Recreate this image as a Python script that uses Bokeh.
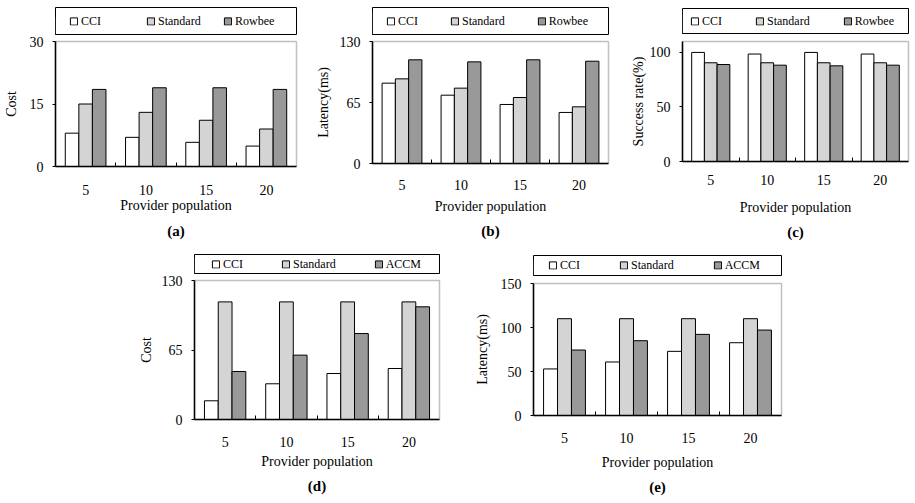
from bokeh.plotting import figure
from bokeh.models import (Range1d, FixedTicker, Legend, LegendItem, Title, Spacer)
from bokeh.layouts import row, column
from bokeh.embed import file_html
from bokeh.resources import INLINE

# ---------------- data ----------------
categories = ["5", "10", "15", "20"]

a_names = ["CCI", "Standard", "Rowbee"]
a_cci = [8.0, 7.0, 5.8, 4.9]
a_std = [15.0, 13.0, 11.1, 9.0]
a_row = [18.5, 18.9, 18.9, 18.5]
a_ticks = [0, 15, 30]

b_names = ["CCI", "Standard", "Rowbee"]
b_cci = [85.6, 72.8, 62.9, 54.4]
b_std = [90.2, 80.3, 70.3, 60.4]
b_row = [110.5, 108.3, 110.5, 109.0]
b_ticks = [0, 65, 130]

c_names = ["CCI", "Standard", "Rowbee"]
c_cci = [100.0, 98.5, 100.0, 98.5]
c_std = [90.5, 90.5, 90.5, 90.5]
c_row = [88.9, 88.3, 87.7, 88.3]
c_ticks = [0, 50, 100]

d_names = ["CCI", "Standard", "ACCM"]
d_cci = [17.5, 33.4, 43.0, 47.7]
d_std = [110.0, 110.0, 110.0, 110.0]
d_accm = [44.9, 60.2, 80.4, 105.4]
d_ticks = [0, 65, 130]

e_names = ["CCI", "Standard", "ACCM"]
e_cci = [52.9, 60.8, 72.9, 82.7]
e_std = [110.0, 110.0, 110.0, 110.0]
e_accm = [74.4, 85.0, 92.2, 97.1]
e_ticks = [0, 50, 100, 150]

# ---------------- style ----------------
FONT = "Liberation Serif"
COLORS = ["#ffffff", "#d4d4d4", "#999999"]
BAR_W = 0.225


def panel(series, names, ylabel, yticks, ymax, caption, width, bl, br,
          leg_h, leg_bt, leg_fh, leg_x, leg_lw, leg_sp,
          main_h, bt, fh, ylab_so, xtick_so, xlab_so, cap_so):
    n = len(series)
    xs_of = []
    for k in range(n):
        off = (k - (n - 1) / 2) * BAR_W
        xs_of.append([i + 1 + off for i in range(len(categories))])

    # ---- legend strip: its frame outline is the legend box ----
    lf = figure(width=width, height=leg_h, output_backend="svg",
                toolbar_location=None, min_border_left=bl, min_border_right=br,
                min_border_top=leg_bt, min_border_bottom=leg_h - leg_bt - leg_fh,
                x_axis_location=None, y_axis_location=None,
                x_range=Range1d(100, 101), y_range=Range1d(0, ymax))
    lf.xgrid.visible = False
    lf.ygrid.visible = False
    lf.outline_line_color = "black"
    lf.outline_line_width = 1
    # key swatches use the same series, drawn off-canvas
    keys = [lf.vbar(x=xs_of[k], top=series[k], bottom=0, width=BAR_W,
                    fill_color=COLORS[k], line_color="black", line_width=1)
            for k in range(n)]
    legend = Legend(items=[LegendItem(label=nm, renderers=[r])
                           for nm, r in zip(names, keys)],
                    orientation="horizontal", location="left",
                    padding=0, spacing=leg_sp, margin=leg_x,
                    glyph_width=9, glyph_height=9, label_standoff=3,
                    label_width=leg_lw, label_height=12,
                    label_text_font=FONT, label_text_font_size="12px",
                    label_text_color="black",
                    border_line_color=None, background_fill_alpha=0)
    lf.add_layout(legend)

    # ---- main chart ----
    bb = main_h - bt - fh
    p = figure(width=width, height=main_h, output_backend="svg",
               toolbar_location=None, min_border_left=bl, min_border_right=br,
               min_border_top=bt, min_border_bottom=bb,
               x_range=Range1d(0.5, len(categories) + 0.5),
               y_range=Range1d(0, ymax))
    p.xgrid.visible = False
    p.ygrid.visible = False
    p.outline_line_color = "#c0c0c0"
    p.outline_line_width = 1.5

    for k, vals in enumerate(series):
        p.vbar(x=xs_of[k], top=vals, bottom=0, width=BAR_W,
               fill_color=COLORS[k], line_color="black", line_width=1)

    centers = [i + 1 for i in range(len(categories))]
    bounds = [i + 1.5 for i in range(len(categories) - 1)]
    xa = p.xaxis[0]
    xa.ticker = FixedTicker(ticks=centers, minor_ticks=bounds)
    xa.major_label_overrides = {c: lab for c, lab in zip(centers, categories)}
    xa.major_tick_line_color = None
    xa.major_tick_out = 0
    xa.major_tick_in = 0
    xa.minor_tick_in = 4
    xa.minor_tick_out = 0
    xa.minor_tick_line_color = "black"
    xa.axis_line_color = "black"
    xa.axis_line_width = 1.5
    xa.major_label_standoff = xtick_so
    xa.major_label_text_font = FONT
    xa.major_label_text_font_size = "14px"
    xa.major_label_text_color = "black"
    xa.axis_label = "Provider population"
    xa.axis_label_text_font = FONT
    xa.axis_label_text_font_size = "14px"
    xa.axis_label_text_font_style = "normal"
    xa.axis_label_text_color = "black"
    xa.axis_label_standoff = xlab_so

    ya = p.yaxis[0]
    ya.ticker = FixedTicker(ticks=yticks, minor_ticks=[])
    ya.major_tick_out = 3
    ya.major_tick_in = 0
    ya.major_tick_line_color = "black"
    ya.minor_tick_line_color = None
    ya.axis_line_color = "black"
    ya.axis_line_width = 1.5
    ya.major_label_standoff = 9
    ya.major_label_text_font = FONT
    ya.major_label_text_font_size = "14px"
    ya.major_label_text_color = "black"
    ya.axis_label = ylabel
    ya.axis_label_text_font = FONT
    ya.axis_label_text_font_size = "14px"
    ya.axis_label_text_font_style = "normal"
    ya.axis_label_text_color = "black"
    ya.axis_label_standoff = ylab_so

    cap = Title(text=caption, align="center", text_font=FONT,
                text_font_size="15px", text_font_style="bold",
                text_color="black", standoff=cap_so)
    p.add_layout(cap, "below")
    return column(lf, p)


pa = panel([a_cci, a_std, a_row], a_names, "Cost", a_ticks, 30, "(a)", 305, 53, 9,
           35, 7, 27, 14, 48, 17,
           215, 6, 125, 8, 18, 0, 10)
pb = panel([b_cci, b_std, b_row], b_names, "Latency(ms)", b_ticks, 130, "(b)", 310, 67, 7,
           35, 7, 27, 14, 0, 32,
           215, 6, 122, 6, 16, 6, 8)
pc = panel([c_cci, c_std, c_row], c_names, "Success rate(%)", c_ticks, 110, "(c)", 300, 67, 7,
           35, 8, 25, 8, 0, 33,
           215, 6, 120, 1, 13, 12, 8)
pd = panel([d_cci, d_std, d_accm], d_names, "Cost", d_ticks, 130, "(d)", 340, 64, 31,
           25, 4, 19, 17, 0, 38,
           228, 5, 139, 5, 17, 4, 9)
pe = panel([e_cci, e_std, e_accm], e_names, "Latency(ms)", e_ticks, 150, "(e)", 330, 63, 19,
           27, 5, 20, 15, 0, 39,
           226, 6, 132, 8, 17, 9, 8)

layout = column(row(pa, pb, pc),
                row(Spacer(width=130, height=253), pd, pe))

open("out.html", "w").write(file_html(layout, INLINE))
